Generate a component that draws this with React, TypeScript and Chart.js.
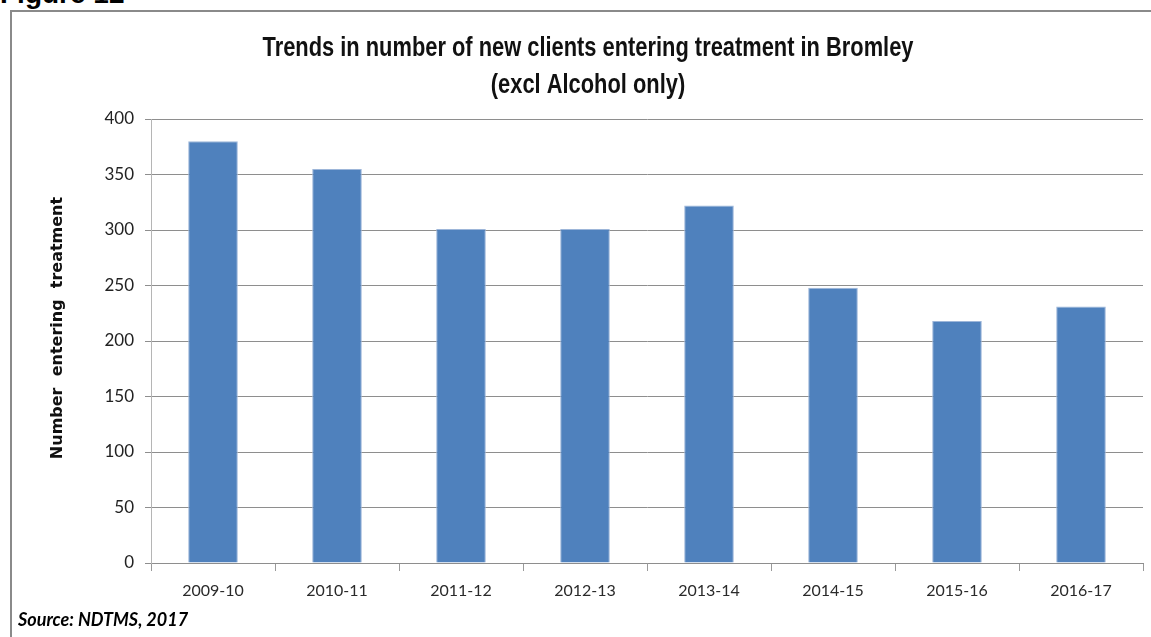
import React, { useEffect, useRef } from "react";
import { Chart, registerables } from "chart.js";

Chart.register(...registerables);

const categories = ["2009-10", "2010-11", "2011-12", "2012-13", "2013-14", "2014-15", "2015-16", "2016-17"];
const newClients = [380, 355, 301, 301, 322, 248, 218, 231];
const yTickValues = [0, 50, 100, 150, 200, 250, 300, 350, 400];
const titleLines = ["Trends in number of new clients entering treatment in Bromley", "(excl Alcohol only)"];
const yAxisTitle = "Number  entering  treatment";
const figureLabel = "Figure 12";
const sourceLabel = "Source: NDTMS, 2017";

// styling for condensed title: center x, baselines, width of first line
const titleCenterX = 588;
const titleBaselines = [56, 93];
const titleFirstLineWidth = 651;

const textPlugin = {
  id: "textPlugin",
  afterDraw(chart: any) {
    const ctx = chart.ctx;
    // y axis title
    ctx.save();
    ctx.translate(58, 328);
    ctx.rotate(-Math.PI / 2);
    ctx.font = "bold 16px 'DejaVu Sans'";
    ctx.fillStyle = "#111";
    ctx.textAlign = "center";
    ctx.textBaseline = "middle";
    ctx.fillText(yAxisTitle, 0, 0);
    ctx.restore();
    // condensed chart title (same horizontal scale for both lines)
    ctx.save();
    ctx.font = "bold 28px 'Liberation Sans'";
    const sx = titleFirstLineWidth / ctx.measureText(titleLines[0]).width;
    ctx.restore();
    titleLines.forEach((line, i) => {
      ctx.save();
      ctx.font = "bold 28px 'Liberation Sans'";
      ctx.translate(titleCenterX, titleBaselines[i]);
      ctx.scale(sx, 1);
      ctx.fillStyle = "#111";
      ctx.textAlign = "center";
      ctx.textBaseline = "alphabetic";
      ctx.fillText(line, 0, 0);
      ctx.restore();
    });
  },
};

export default function App() {
  const ref = useRef<HTMLCanvasElement | null>(null);

  useEffect(() => {
    document.body.style.margin = "0";
    const chart = new Chart(ref.current as HTMLCanvasElement, {
      type: "bar",
      data: {
        labels: categories,
        datasets: [
          {
            data: newClients,
            backgroundColor: "#4F81BD",
            borderColor: "#9db6d9",
            borderWidth: 1,
            barPercentage: 0.4,
            categoryPercentage: 1,
          },
        ],
      },
      plugins: [textPlugin],
      options: {
        animation: false,
        responsive: false,
        maintainAspectRatio: false,
        layout: { padding: { left: 0, right: 8, top: 119, bottom: 0 } },
        plugins: {
          legend: { display: false },
          tooltip: { enabled: false },
          title: { display: false },
        },
        scales: {
          x: {
            afterFit: (s: any) => {
              s.height = 74;
            },
            grid: {
              drawOnChartArea: false,
              drawTicks: true,
              tickLength: 8,
              offset: true,
              color: "#9a9a9a",
            },
            border: { color: "#8e8e8e" },
            ticks: {
              color: "#2a2a2a",
              padding: 10,
              font: { family: "Lato", size: 16 },
              maxRotation: 0,
            },
          },
          y: {
            min: 0,
            max: 400,
            afterFit: (s: any) => {
              s.width = 151;
            },
            afterBuildTicks: (s: any) => {
              s.ticks = yTickValues.map((v) => ({ value: v }));
            },
            grid: {
              color: "#8e8e8e",
              tickLength: 6,
            },
            border: { color: "#b5b5b5" },
            ticks: {
              color: "#222",
              padding: 11,
              font: { family: "Lato", size: 17 },
            },
          },
        },
      },
    });
    return () => chart.destroy();
  }, []);

  return (
    <div style={{ position: "relative", width: 1151, height: 637, background: "#fff", overflow: "hidden" }}>
      <div
        style={{
          position: "absolute",
          left: 0,
          top: -20,
          fontFamily: "'Liberation Sans', Arial, sans-serif",
          fontWeight: "bold",
          fontSize: 28,
          lineHeight: "28px",
          color: "#000",
          whiteSpace: "nowrap",
        }}
      >
        {figureLabel}
      </div>
      <div
        style={{
          position: "absolute",
          left: 10,
          top: 10,
          width: 1160,
          height: 700,
          borderLeft: "2px solid #8a8a8a",
          borderTop: "2px solid #8a8a8a",
        }}
      />
      <canvas ref={ref} width={1151} height={637} style={{ position: "absolute", left: 0, top: 0, width: 1151, height: 637 }} />
      <div
        style={{
          position: "absolute",
          left: 18,
          top: 608,
          fontFamily: "Lato, sans-serif",
          fontWeight: "bold",
          fontStyle: "italic",
          fontSize: 18,
          lineHeight: "22px",
          color: "#000",
          whiteSpace: "nowrap",
        }}
      >
        {sourceLabel}
      </div>
    </div>
  );
}
